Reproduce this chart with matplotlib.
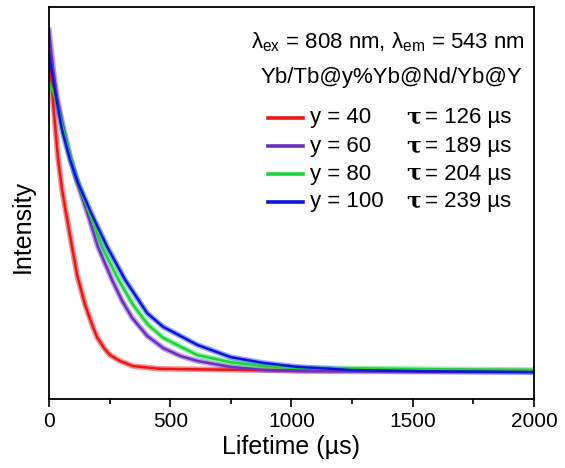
import matplotlib
matplotlib.use("Agg")
import matplotlib.pyplot as plt

plt.rcParams["font.family"] = ["Liberation Sans", "DejaVu Sans"]

# decay curves: time (us) vs normalised intensity
t_40 = [0, 12, 25, 37, 54, 74, 95, 116, 149, 178, 198, 227, 252, 293, 347, 459, 831, 2000]
i_40 = [0.890, 0.793, 0.699, 0.615, 0.533, 0.462, 0.388, 0.316, 0.240, 0.189, 0.158,
        0.130, 0.112, 0.097, 0.084, 0.077, 0.074, 0.071]

t_60 = [0, 17, 33, 54, 79, 107, 157, 202, 260, 302, 343, 405, 471, 541, 612, 748, 884, 1037, 2000]
i_60 = [0.941, 0.844, 0.770, 0.707, 0.640, 0.571, 0.477, 0.388, 0.304, 0.250, 0.207,
        0.161, 0.130, 0.110, 0.097, 0.082, 0.074, 0.071, 0.069]

t_80 = [0, 17, 33, 54, 87, 120, 169, 219, 285, 347, 409, 471, 612, 748, 884, 1025, 2000]
i_80 = [0.809, 0.783, 0.755, 0.699, 0.617, 0.551, 0.469, 0.388, 0.306, 0.240, 0.189,
        0.156, 0.112, 0.094, 0.084, 0.079, 0.074]

t_100 = [0, 25, 54, 87, 120, 149, 178, 240, 314, 405, 471, 612, 748, 884, 1025, 1244, 1533, 2000]
i_100 = [0.883, 0.783, 0.686, 0.610, 0.551, 0.510, 0.469, 0.388, 0.304, 0.219, 0.184,
         0.138, 0.107, 0.092, 0.082, 0.074, 0.071, 0.069]

labels = ["y = 40", "y = 60", "y = 80", "y = 100"]
taus = ["= 126 µs", "= 189 µs", "= 204 µs", "= 239 µs"]
fit_colors = ["#e81818", "#6a2fc0", "#1fd23c", "#0a14d8"]
raw_colors = ["#ff3030", "#8a50e0", "#40e860", "#3a60ff"]

series = [(t_40, i_40), (t_60, i_60), (t_80, i_80), (t_100, i_100)]

fig = plt.figure(figsize=(5.65, 4.68), dpi=100)
ax = fig.add_axes([0.0867, 0.1474, 0.8584, 0.8376])

# raw traces drawn as a soft band, fits on top
for (t, v), c in zip(series, raw_colors):
    ax.plot(t, v, "-", color=c, lw=4.0, alpha=0.55, solid_joinstyle="round")
for (t, v), c in zip(series, fit_colors):
    ax.plot(t, v, "-", color=c, lw=1.8, solid_joinstyle="round")

ax.set_xlim(0, 2000)
ax.set_ylim(0, 1)
ax.set_xticks([0, 500, 1000, 1500, 2000])
ax.set_xticks([250, 750, 1250, 1750], minor=True)
ax.set_yticks([])
ax.tick_params(axis="x", which="major", direction="out", length=6, width=1.2, labelsize=15)
ax.tick_params(axis="x", which="minor", direction="out", length=3.5, width=1.2)
for s in ax.spines.values():
    s.set_linewidth(1.3)

ax.set_xlabel("Lifetime (µs)", fontsize=18, labelpad=3)
ax.set_ylabel("Intensity", fontsize=18, labelpad=10)
ax.yaxis.label.set_y(0.44)

ax.text(0.981, 0.911, r"λ$_\mathregular{ex}$ = 808 nm, λ$_\mathregular{em}$ = 543 nm",
        transform=ax.transAxes, ha="right", va="center", fontsize=16)
ax.text(0.975, 0.819, "Yb/Tb@y%Yb@Nd/Yb@Y", transform=ax.transAxes,
        ha="right", va="center", fontsize=16)

rows = [0.717, 0.645, 0.574, 0.503]
for yr, lab, tau, c in zip(rows, labels, taus, fit_colors):
    ax.plot([0.452, 0.524], [yr, yr], color=c, lw=2.6, transform=ax.transAxes)
    ax.text(0.538, yr, lab, transform=ax.transAxes, ha="left", va="center", fontsize=16)
    ax.text(0.736, yr, "τ", transform=ax.transAxes, ha="left", va="center",
            fontsize=16, fontweight="bold", family=["DejaVu Serif"])
    ax.text(0.775, yr, tau, transform=ax.transAxes, ha="left", va="center", fontsize=16)

fig.savefig("out.png", dpi=100)
